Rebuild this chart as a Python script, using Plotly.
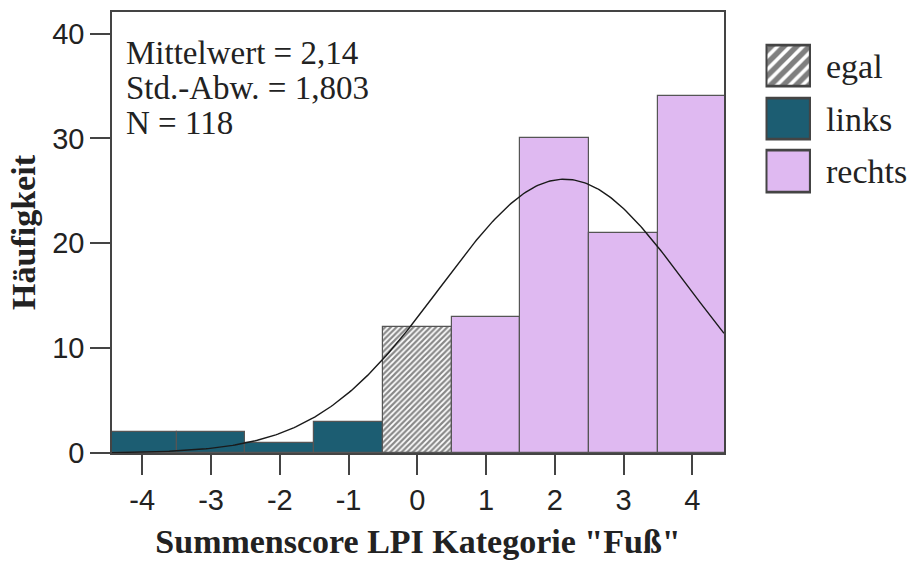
import numpy as np
import plotly.graph_objects as go

# ---- data ----
links_x = [-4, -3, -2, -1]
links_y = [2, 2, 1, 3]
egal_x = [0]
egal_y = [12]
rechts_x = [1, 2, 3, 4]
rechts_y = [13, 30, 21, 34]

MEAN = 2.14
SD = 1.803
N = 118
BIN_WIDTH = 1.0

legend_names = ["egal", "links", "rechts"]
stats_lines = ["Mittelwert = 2,14", "Std.-Abw. = 1,803", "N = 118"]
x_ticks = [-4, -3, -2, -1, 0, 1, 2, 3, 4]
y_ticks = [0, 10, 20, 30, 40]

# ---- styles ----
C_LINKS = "#1c5d72"
C_RECHTS = "#dfb9f1"
EDGE = "#555555"
SERIF = "Liberation Serif"
SANS = "Liberation Sans"

X_RANGE = [-4.44, 4.46]
Y_RANGE = [0, 42.05]

fig = go.Figure()

fig.add_trace(go.Bar(x=links_x, y=links_y, width=1.0, name="links",
                     marker=dict(color=C_LINKS, line=dict(color=EDGE, width=1.2)),
                     showlegend=False))
fig.add_trace(go.Bar(x=egal_x, y=egal_y, width=1.0, name="egal",
                     marker=dict(color="white", line=dict(color=EDGE, width=1.2),
                                 pattern=dict(shape="/", fgcolor="#111111", bgcolor="white",
                                              size=4, solidity=0.55)),
                     showlegend=False))
fig.add_trace(go.Bar(x=rechts_x, y=rechts_y, width=1.0, name="rechts",
                     marker=dict(color=C_RECHTS, line=dict(color=EDGE, width=1.2)),
                     showlegend=False))

# fitted normal curve
xc = np.linspace(X_RANGE[0], X_RANGE[1], 300)
yc = N * BIN_WIDTH / (SD * np.sqrt(2 * np.pi)) * np.exp(-0.5 * ((xc - MEAN) / SD) ** 2)
fig.add_trace(go.Scatter(x=xc, y=yc, mode="lines", line=dict(color="#1a1a1a", width=1.4),
                         showlegend=False, hoverinfo="skip"))

# legend boxes drawn as bars on a small auxiliary axis
LEG_EDGE = "#444444"
leg_styles = {
    "egal": dict(color="white", line=dict(color=LEG_EDGE, width=2.6),
                 pattern=dict(shape="/", fgcolor="#000000", bgcolor="white", size=9, solidity=0.6)),
    "links": dict(color=C_LINKS, line=dict(color=LEG_EDGE, width=2.6)),
    "rechts": dict(color=C_RECHTS, line=dict(color=LEG_EDGE, width=2.6)),
}
for nm in legend_names:
    fig.add_trace(go.Bar(y=[nm], x=[1], orientation="h", width=0.78,
                         marker=leg_styles[nm], xaxis="x2", yaxis="y2",
                         showlegend=False, hoverinfo="skip"))

W_PLOT = 798
H_PLOT = 441

# stats annotations
for i, t in enumerate(stats_lines):
    fig.add_annotation(text=t, xref="paper", yref="paper", x=(124 - 112) / W_PLOT,
                       y=(453 - (53 + 35 * i)) / H_PLOT, xanchor="left", yanchor="middle",
                       showarrow=False, font=dict(family=SERIF, size=33, color="#222"))

fig.update_layout(
    width=920, height=562,
    margin=dict(l=112, r=10, t=12, b=109),
    paper_bgcolor="white", plot_bgcolor="white",
    barmode="overlay", bargap=0,
    xaxis=dict(domain=[0, (724 - 112) / W_PLOT], range=X_RANGE, tickmode="array",
               tickvals=x_ticks, ticktext=[str(v) for v in x_ticks], automargin=False,
               ticks="outside", ticklen=20, tickwidth=1.5, tickcolor="#444",
               showline=True, linecolor="#444", linewidth=1.5, mirror=True,
               showgrid=False, zeroline=False,
               tickfont=dict(family=SANS, size=29, color="#222"),
               title=dict(text='<b>Summenscore LPI Kategorie "Fuß"</b>', standoff=15,
                          font=dict(family=SERIF, size=34, color="#222"))),
    yaxis=dict(range=Y_RANGE, tickmode="array", tickvals=y_ticks, automargin=False,
               ticks="outside", ticklen=20, tickwidth=1.5, tickcolor="#444",
               showline=True, linecolor="#444", linewidth=1.5, mirror=True,
               showgrid=False, zeroline=False,
               tickfont=dict(family=SANS, size=29, color="#222"),
               title=dict(text="<b>Häufigkeit</b>", standoff=6,
                          font=dict(family=SERIF, size=34, color="#222"))),
    xaxis2=dict(domain=[(765.5 - 112) / W_PLOT, (811 - 112) / W_PLOT], range=[-0.02, 1.02],
                anchor="y2", visible=False, fixedrange=True, automargin=False),
    yaxis2=dict(domain=[(453 - 197.9) / H_PLOT, (453 - 39.4) / H_PLOT], range=[2.5, -0.5],
                type="category", categoryorder="array", categoryarray=legend_names,
                anchor="x2", side="right", showline=False, showgrid=False, zeroline=False,
                ticks="", ticklabelstandoff=14, automargin=False,
                tickfont=dict(family=SERIF, size=34, color="#222")),
)

fig.write_html("out.html")
